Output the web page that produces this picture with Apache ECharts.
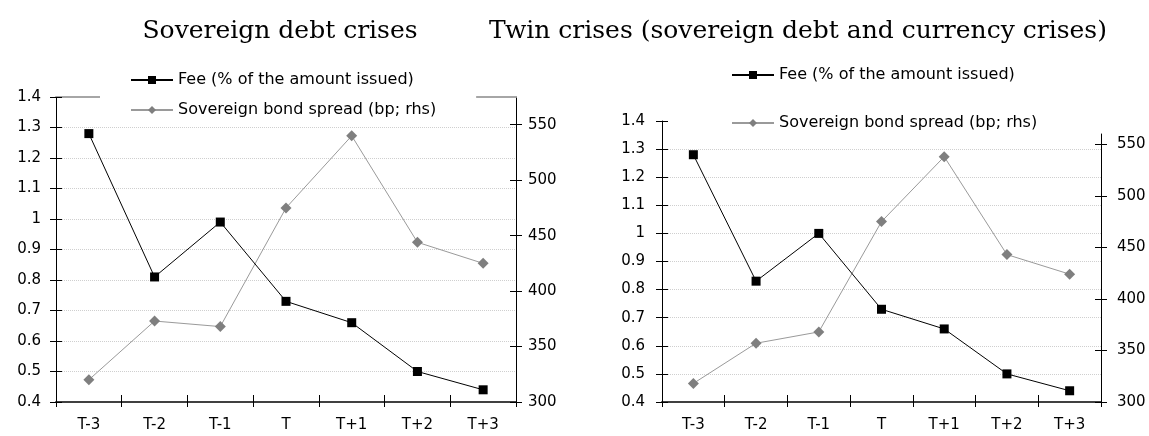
<!DOCTYPE html>
<html>
<head>
<meta charset="utf-8">
<script src="https://cdn.jsdelivr.net/npm/echarts@6/dist/echarts.min.js"></script>
<style>
  html, body { margin: 0; padding: 0; background: #ffffff; }
  #chart { width: 1149px; height: 436px; }
</style>
</head>
<body>
<div id="chart"></div>
<script>
// Event window around the crisis year T
const categories = ['T-3', 'T-2', 'T-1', 'T', 'T+1', 'T+2', 'T+3'];

// Sovereign debt crises
const feeSovereign = [1.28, 0.81, 0.99, 0.73, 0.66, 0.50, 0.44];
const spreadSovereign = [320, 373, 368, 475, 540, 444, 425];

// Twin crises (sovereign debt and currency crises)
const feeTwin = [1.28, 0.83, 1.00, 0.73, 0.66, 0.50, 0.44];
const spreadTwin = [318, 357, 368, 475, 538, 443, 424];

// Right-hand axis tick labels (bp)
const spreadTicks = [300, 350, 400, 450, 500, 550];

const panelTitles = ['Sovereign debt crises', 'Twin crises (sovereign debt and currency crises)'];
const feeName = 'Fee (% of the amount issued)';
const spreadName = 'Sovereign bond spread (bp; rhs)';

const SANS = '"DejaVu Sans", sans-serif';
const SERIF = '"DejaVu Serif", serif';

const labelStyle = { color: '#000', fontFamily: SANS, fontSize: 15 };
const gridLine = { show: true, showMinLine: false, showMaxLine: false, lineStyle: { color: '#cfcfcf', type: [1, 1], width: 1 } };

function catAxis(gridIndex, opts) {
  return Object.assign({
    type: 'category', gridIndex, data: categories, boundaryGap: true,
    axisLine: { show: false, onZero: false },
    axisTick: { show: false },
    axisLabel: { show: false },
    splitLine: { show: false }
  }, opts);
}

function valAxis(gridIndex, position, min, max, opts) {
  return Object.assign({
    type: 'value', gridIndex, position, min, max, scale: true,
    axisLine: { show: false },
    axisTick: { show: false },
    axisLabel: { show: false },
    splitLine: { show: false }
  }, opts);
}

// Ticks cross the axis lines: one axis draws them outward, a twin axis inward
const crossTickOut = { show: true, inside: false, length: 6, lineStyle: { color: '#000', width: 1 } };
const crossTickIn = { show: true, inside: true, length: 6, lineStyle: { color: '#000', width: 1 } };

const titleFont = '25px ' + SERIF;

const option = {
  animation: false,
  backgroundColor: '#ffffff',
  graphic: [
    { type: 'text', x: 280, y: 31, style: { text: panelTitles[0], fill: '#000', font: titleFont, align: 'center', verticalAlign: 'middle', textAlign: 'center', textVerticalAlign: 'middle' } },
    { type: 'text', x: 798, y: 31, style: { text: panelTitles[1], fill: '#000', font: titleFont, align: 'center', verticalAlign: 'middle', textAlign: 'center', textVerticalAlign: 'middle' } }
  ],
  grid: [
    { left: 56, top: 97, width: 460, height: 305 },
    { left: 662, top: 121, width: 439, height: 281 },
    { left: 662, top: 134, width: 439, height: 268 }
  ],
  xAxis: [
    // left panel
    catAxis(0, { position: 'bottom',
      axisLine: { show: true, onZero: false, lineStyle: { color: '#404040', width: 2 } },
      axisTick: Object.assign({}, crossTickOut, { length: 5 }),
      axisLabel: Object.assign({ show: true, margin: 16 }, labelStyle) }),
    catAxis(0, { position: 'bottom', axisTick: Object.assign({}, crossTickIn, { length: 7 }) }),
    catAxis(0, { position: 'top', axisLine: { show: true, onZero: false, lineStyle: { color: '#a6a6a6', width: 2 } } }),
    // right panel
    catAxis(1, { position: 'bottom',
      axisLine: { show: true, onZero: false, lineStyle: { color: '#404040', width: 2 } },
      axisTick: Object.assign({}, crossTickOut, { length: 5 }),
      axisLabel: Object.assign({ show: true, margin: 16 }, labelStyle) }),
    catAxis(1, { position: 'bottom', axisTick: Object.assign({}, crossTickIn, { length: 7 }) }),
    catAxis(2, { show: false })
  ],
  yAxis: [
    // left panel, fee
    valAxis(0, 'left', 0.4, 1.4, { interval: 0.1,
      axisLine: { show: true, lineStyle: { color: '#000', width: 1 } },
      axisTick: crossTickOut,
      axisLabel: Object.assign({ show: true, margin: 15 }, labelStyle),
      splitLine: gridLine }),
    valAxis(0, 'left', 0.4, 1.4, { interval: 0.1, axisTick: crossTickIn }),
    // left panel, spread
    valAxis(0, 'right', 300, 575, {
      axisLine: { show: true, lineStyle: { color: '#000', width: 1 } },
      axisTick: Object.assign({ customValues: spreadTicks }, crossTickOut),
      axisLabel: Object.assign({ show: true, margin: 12, customValues: spreadTicks }, labelStyle) }),
    valAxis(0, 'right', 300, 575, {
      axisTick: Object.assign({ customValues: spreadTicks }, crossTickIn) }),
    // right panel, fee
    valAxis(1, 'left', 0.4, 1.4, { interval: 0.1,
      axisLine: { show: true, lineStyle: { color: '#000', width: 1 } },
      axisTick: crossTickOut,
      axisLabel: Object.assign({ show: true, margin: 17 }, labelStyle),
      splitLine: gridLine }),
    valAxis(1, 'left', 0.4, 1.4, { interval: 0.1, axisTick: crossTickIn }),
    // right panel, spread
    valAxis(2, 'right', 300, 560, {
      axisLine: { show: true, lineStyle: { color: '#000', width: 1 } },
      axisTick: Object.assign({ customValues: spreadTicks }, crossTickOut),
      axisLabel: Object.assign({ show: true, margin: 16, customValues: spreadTicks }, labelStyle) }),
    valAxis(2, 'right', 300, 560, {
      axisTick: Object.assign({ customValues: spreadTicks }, crossTickIn) })
  ],
  legend: [
    { data: [feeName], left: 130, top: 72, padding: 0, itemWidth: 42, itemHeight: 10, selectedMode: false,
      textStyle: { color: '#000', fontFamily: SANS, fontSize: 16 } },
    { data: [spreadName], left: 100, top: 93, padding: [9, 40, 3, 30], backgroundColor: '#ffffff',
      itemWidth: 42, itemHeight: 10, selectedMode: false,
      textStyle: { color: '#000', fontFamily: SANS, fontSize: 16 } },
    { data: [feeName], left: 731, top: 67, padding: 0, itemWidth: 42, itemHeight: 10, selectedMode: false,
      textStyle: { color: '#000', fontFamily: SANS, fontSize: 16 } },
    { data: [spreadName], left: 731, top: 115, padding: 0, itemWidth: 42, itemHeight: 10, selectedMode: false,
      textStyle: { color: '#000', fontFamily: SANS, fontSize: 16 } }
  ],
  series: [
    { name: spreadName, type: 'line', xAxisIndex: 0, yAxisIndex: 2, data: spreadSovereign,
      symbol: 'diamond', symbolSize: 11, color: '#7f7f7f',
      itemStyle: { color: '#7f7f7f' }, lineStyle: { color: '#9a9a9a', width: 1 } },
    { name: feeName, type: 'line', xAxisIndex: 0, yAxisIndex: 0, data: feeSovereign,
      symbol: 'rect', symbolSize: 9, color: '#000',
      itemStyle: { color: '#000' }, lineStyle: { color: '#000', width: 1 } },
    { name: spreadName, type: 'line', xAxisIndex: 5, yAxisIndex: 6, data: spreadTwin,
      symbol: 'diamond', symbolSize: 11, color: '#7f7f7f',
      itemStyle: { color: '#7f7f7f' }, lineStyle: { color: '#9a9a9a', width: 1 } },
    { name: feeName, type: 'line', xAxisIndex: 3, yAxisIndex: 4, data: feeTwin,
      symbol: 'rect', symbolSize: 9, color: '#000',
      itemStyle: { color: '#000' }, lineStyle: { color: '#000', width: 1 } }
  ]
};

const chart = echarts.init(document.getElementById('chart'), null, { renderer: 'canvas' });
chart.setOption(option);
</script>
</body>
</html>
